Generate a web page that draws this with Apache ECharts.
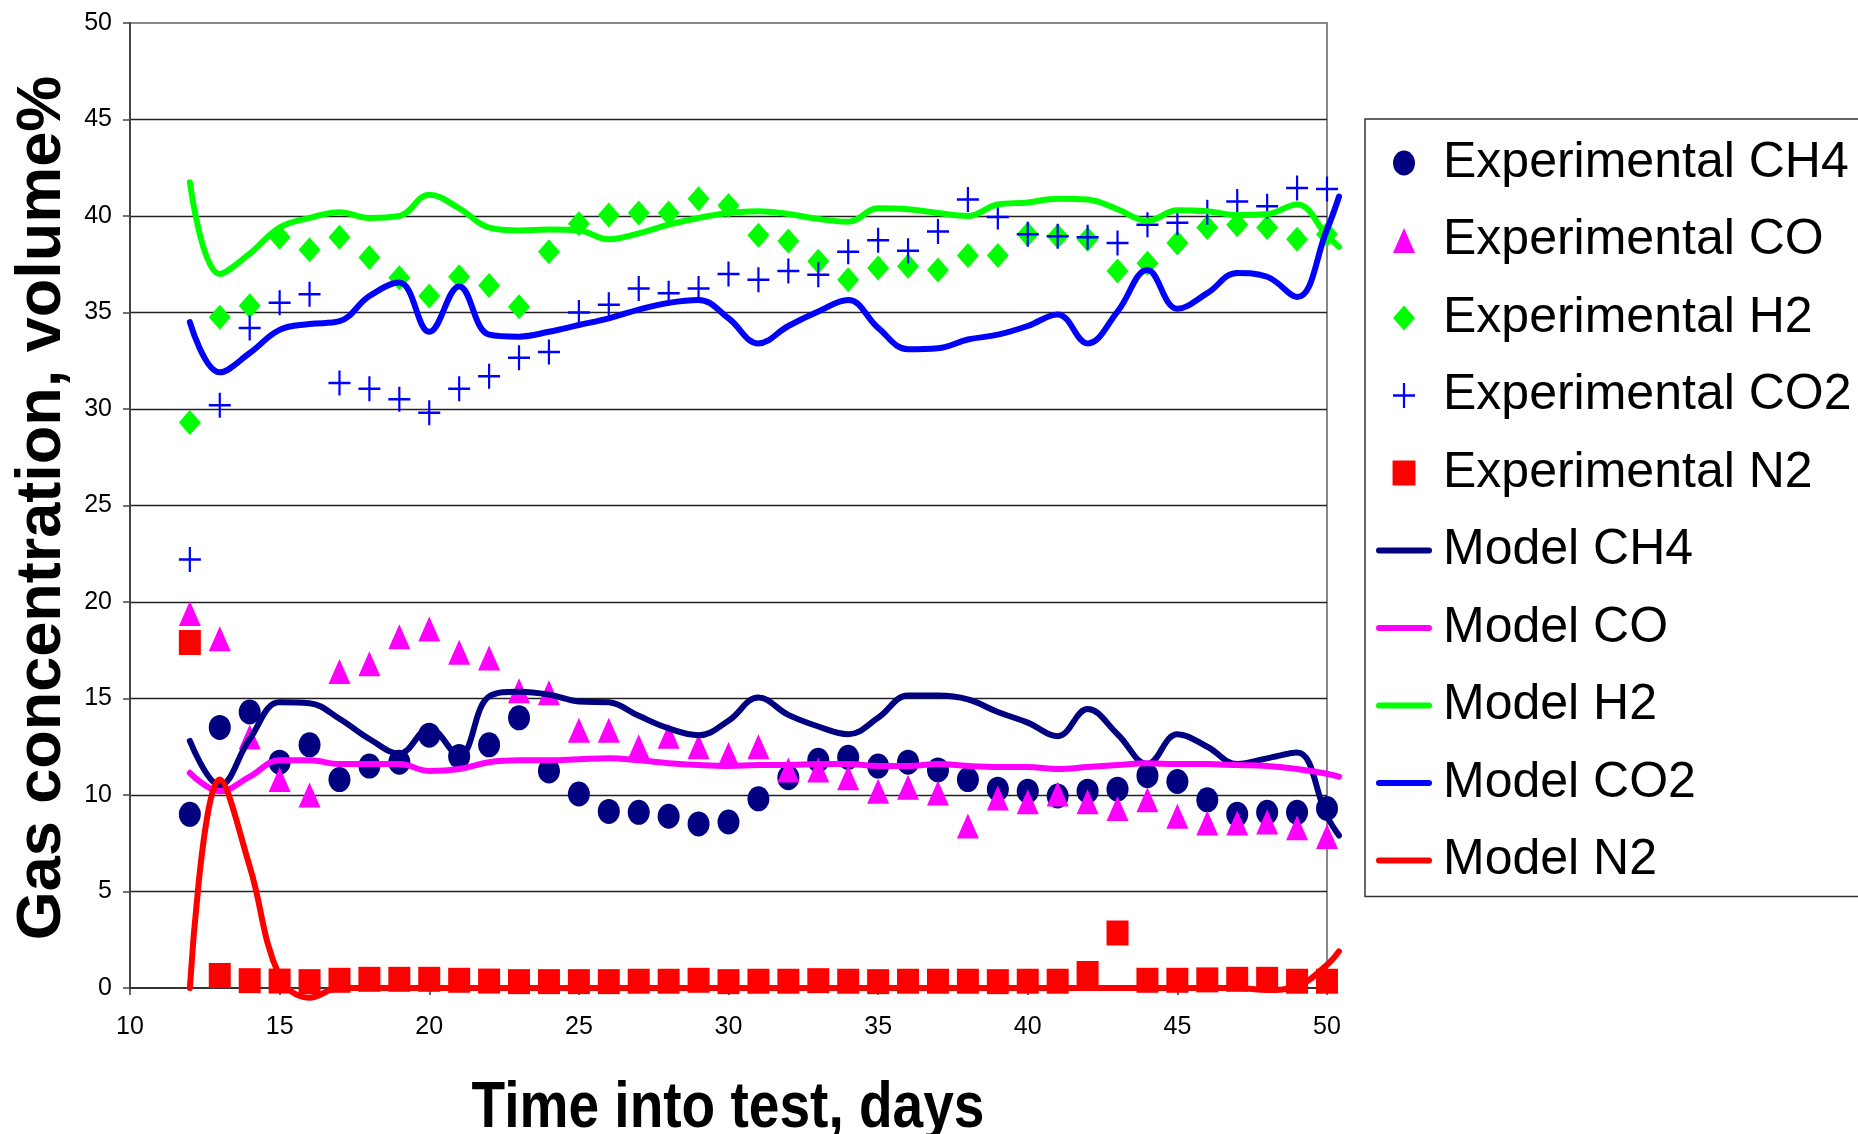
<!DOCTYPE html>
<html>
<head>
<meta charset="utf-8">
<title>Gas concentration vs time</title>
<script src="https://cdn.jsdelivr.net/npm/echarts@6.0.0/dist/echarts.min.js"></script>
<style>
  html, body { margin: 0; padding: 0; background: #fff; }
  #chart { width: 1858px; height: 1134px; }
</style>
</head>
<body>
<div id="chart"></div>
<script>
// sample days (experimental points)
const days = [12, 13, 14, 15, 16, 17, 18, 19, 20, 21, 22, 23, 24, 25, 26, 27, 28, 29, 30, 31,
  32, 33, 34, 35, 36, 37, 38, 39, 40, 41, 42, 43, 44, 45, 46, 47, 48, 49, 50]

const expCH4 = [9.0, 13.5, 14.3, 11.7, 12.6, 10.8, 11.5, 11.7, 13.1, 12.0, 12.6, 14.0, 11.25, 10.05, 9.15, 9.1, 8.9, 8.5, 8.6, 9.8,
  10.9, 11.8, 11.95, 11.5, 11.7, 11.3, 10.8, 10.3, 10.2, 9.95, 10.2, 10.3, 11.0, 10.7, 9.75, 9.0, 9.1, 9.1, 9.3]
const expCO = [19.4, 18.1, 13.0, 10.8, 10.0, 16.4, 16.8, 18.2, 18.6, 17.4, 17.1, 15.4, 15.3, 13.35, 13.35, 12.5, 13.05, 12.5, 12.1, 12.5,
  11.3, 11.3, 10.9, 10.2, 10.4, 10.1, 8.4, 9.85, 9.65, 10.05, 9.65, 9.3, 9.75, 8.9, 8.55, 8.55, 8.6, 8.3, 7.85]
const expH2 = [29.3, 34.75, 35.35, 38.9, 38.25, 38.9, 37.85, 36.8, 35.85, 36.85, 36.4, 35.3, 38.15, 39.6, 40.05, 40.15, 40.15, 40.9, 40.55, 39.0,
  38.7, 37.65, 36.7, 37.3, 37.4, 37.2, 37.95, 37.95, 39.05, 38.95, 38.8, 37.15, 37.55, 38.6, 39.4, 39.55, 39.4, 38.8, 39.05]
const expCO2 = [22.2, 30.2, 34.2, 35.5, 35.95, 31.35, 31.05, 30.5, 29.8, 31.05, 31.7, 32.65, 32.95, 35.0, 35.4, 36.25, 36.0, 36.25, 37.0, 36.7,
  37.15, 36.95, 38.15, 38.75, 38.2, 39.2, 40.85, 39.95, 39.05, 38.95, 38.9, 38.6, 39.55, 39.65, 40.2, 40.75, 40.5, 41.45, 41.4]
const expN2 = [17.9, 0.65, 0.38, 0.36, 0.33, 0.4, 0.45, 0.45, 0.45, 0.4, 0.36, 0.33, 0.33, 0.33, 0.33, 0.35, 0.35, 0.4, 0.33, 0.35,
  0.35, 0.38, 0.35, 0.33, 0.35, 0.35, 0.35, 0.33, 0.35, 0.35, 0.75, 2.85, 0.4, 0.4, 0.42, 0.45, 0.45, 0.35, 0.35]

// model output days
const modelDays = [12, 13, 14, 15, 16, 17, 18, 19, 20, 21, 22, 23, 24, 25, 26, 27, 28, 29, 30, 31,
  32, 33, 34, 35, 36, 37, 38, 39, 40, 41, 42, 43, 44, 45, 46, 47, 48, 49, 50, 50.4]

const modelCH4 = [12.8, 10.5, 12.9, 14.8, 14.75, 13.95, 12.9, 12.15, 13.45, 12.05, 15.1, 15.35, 15.2, 14.85, 14.8, 14.1, 13.45, 13.1, 13.85, 15.05,
  14.15, 13.55, 13.15, 14.0, 15.15, 15.15, 14.95, 14.3, 13.75, 13.05, 14.45, 13.15, 11.6, 13.15, 12.5, 11.6, 11.9, 12.2, 8.9, 7.9]
const modelCO = [11.15, 10.2, 10.95, 11.8, 11.8, 11.6, 11.6, 11.6, 11.25, 11.35, 11.7, 11.8, 11.8, 11.85, 11.9, 11.8, 11.65, 11.55, 11.5, 11.55,
  11.55, 11.6, 11.6, 11.5, 11.5, 11.6, 11.5, 11.45, 11.45, 11.35, 11.45, 11.55, 11.65, 11.6, 11.6, 11.55, 11.5, 11.35, 11.1, 10.95]
const modelH2 = [41.75, 37.0, 38.05, 39.4, 39.9, 40.2, 39.9, 40.0, 41.1, 40.4, 39.4, 39.25, 39.3, 39.25, 38.8, 39.1, 39.55, 39.9, 40.15, 40.25,
  40.1, 39.85, 39.7, 40.4, 40.35, 40.15, 40.0, 40.6, 40.7, 40.9, 40.85, 40.35, 39.75, 40.3, 40.25, 40.05, 40.1, 40.6, 39.0, 38.4]
const modelCO2 = [34.5, 31.9, 32.9, 34.1, 34.4, 34.55, 35.85, 36.55, 34.0, 36.35, 33.85, 33.75, 34.0, 34.35, 34.7, 35.15, 35.5, 35.65, 34.7, 33.4,
  34.3, 35.05, 35.65, 34.2, 33.1, 33.15, 33.6, 33.85, 34.3, 34.9, 33.4, 35.05, 37.2, 35.2, 36.0, 37.05, 36.85, 35.8, 39.3, 41.0]
const modelN2 = [0, 10.8, 6.3, 0.6, -0.5, 0, 0, 0, 0, 0, 0, 0, 0, 0, 0, 0, 0, 0, 0, 0,
  0, 0, 0, 0, 0, 0, 0, 0, 0, 0, 0, 0, 0, 0, 0, 0, -0.1, 0.1, 1.2, 1.9]

// axis ranges / ticks
const xMin = 10, xMax = 50, xStep = 5
const yMin = 0, yMax = 50, yStep = 5
// the model curves run a little past the last tick, so they sit on a wider hidden grid
const xMaxModel = 52

const font = '"Liberation Sans", Arial, sans-serif'

// plot box
const plotLeft = 130, plotTop = 23, plotWidth = 1197, plotHeight = 965

// marker shapes (22 x 25 box)
const symCircle = 'path://M11,0A11,12.5,0,1,1,11,25A11,12.5,0,1,1,11,0Z'
const symTriangle = 'path://M11,0L22,25L0,25Z'
const symDiamond = 'path://M11,0L22,12.5L11,25L0,12.5Z'
const symPlus = 'path://M0,11.25H22V13.75H0Z M9.9,0H12.1V25H9.9Z'
const symSquare = 'path://M0,0H22V24H0Z'
const lineIcon = 'path://M3,0H53A3,3,0,0,1,53,6H3A3,3,0,0,1,3,0Z'

function pairs(xs, ys) {
  return xs.map((x, i) => [x, ys[i]])
}

function markers(name, values, symbol, color) {
  return {
    name: name,
    type: 'scatter',
    data: pairs(days, values),
    symbol: symbol,
    symbolSize: [22, 25],
    itemStyle: { color: color, opacity: 1 },
    clip: false,
    z: 2
  }
}

function model(name, values, color) {
  return {
    name: name,
    type: 'line',
    xAxisIndex: 1,
    yAxisIndex: 1,
    data: pairs(modelDays, values),
    smooth: 0.4,
    symbol: 'none',
    lineStyle: { color: color, width: 6, cap: 'round', join: 'round' },
    itemStyle: { color: color },
    clip: false,
    z: 3
  }
}

const myChart = echarts.init(document.getElementById('chart'), null, { renderer: 'canvas' })
myChart.setOption({
  animation: false,
  backgroundColor: '#fff',
  grid: [
    {
      left: plotLeft,
      top: plotTop,
      width: plotWidth,
      height: plotHeight,
      show: true,
      borderColor: '#888',
      borderWidth: 2,
      outerBoundsMode: 'none'
    },
    {
      left: plotLeft,
      top: plotTop,
      width: plotWidth * (xMaxModel - xMin) / (xMax - xMin),
      height: plotHeight,
      show: false,
      outerBoundsMode: 'none'
    }
  ],
  xAxis: [
    {
      type: 'value',
      gridIndex: 0,
      min: xMin,
      max: xMax,
      interval: xStep,
      axisLine: { show: true, onZero: false, lineStyle: { color: '#333', width: 2 } },
      axisTick: { show: true, length: 7, lineStyle: { color: '#333', width: 1.5 } },
      axisLabel: { fontSize: 25, color: '#000', fontFamily: font, margin: 27 },
      splitLine: { show: false }
    },
    { type: 'value', gridIndex: 1, min: xMin, max: xMaxModel, show: false }
  ],
  yAxis: [
    {
      type: 'value',
      gridIndex: 0,
      min: yMin,
      max: yMax,
      interval: yStep,
      axisLine: { show: true, lineStyle: { color: '#444', width: 2 } },
      axisTick: { show: true, length: 7, lineStyle: { color: '#444', width: 1.5 } },
      axisLabel: { fontSize: 25, color: '#000', fontFamily: font, margin: 18 },
      splitLine: { show: true, showMinLine: false, showMaxLine: false, lineStyle: { color: '#222', width: 1.3 } }
    },
    { type: 'value', gridIndex: 1, min: yMin, max: yMax, show: false, splitLine: { show: false } }
  ],
  legend: {
    orient: 'vertical',
    left: 1365,
    top: 119,
    itemWidth: 56,
    itemHeight: 25,
    itemGap: 27.5,
    padding: [19, 40, 11, 11],
    borderColor: '#333',
    borderWidth: 1.5,
    selectedMode: false,
    textStyle: { fontSize: 50, color: '#000', fontFamily: font, padding: [0, 0, 0, 6] },
    data: [
      'Experimental CH4', 'Experimental CO', 'Experimental H2', 'Experimental CO2', 'Experimental N2',
      { name: 'Model CH4', icon: lineIcon },
      { name: 'Model CO', icon: lineIcon },
      { name: 'Model H2', icon: lineIcon },
      { name: 'Model CO2', icon: lineIcon },
      { name: 'Model N2', icon: lineIcon }
    ]
  },
  graphic: [
    {
      type: 'text',
      x: 43,
      y: 508,
      rotation: Math.PI / 2,
      style: {
        text: 'Gas concentration, volume%',
        font: 'bold 63px ' + font,
        fill: '#000',
        align: 'center',
        verticalAlign: 'middle'
      }
    },
    {
      type: 'text',
      x: 728,
      y: 1109,
      scaleX: 0.86,
      style: {
        text: 'Time into test, days',
        font: 'bold 64px ' + font,
        fill: '#000',
        align: 'center',
        verticalAlign: 'middle'
      }
    }
  ],
  series: [
    markers('Experimental CH4', expCH4, symCircle, '#000080'),
    markers('Experimental CO', expCO, symTriangle, '#ff00ff'),
    markers('Experimental H2', expH2, symDiamond, '#00ff00'),
    markers('Experimental CO2', expCO2, symPlus, '#0000ff'),
    markers('Experimental N2', expN2, symSquare, '#ff0000'),
    model('Model CH4', modelCH4, '#000080'),
    model('Model CO', modelCO, '#ff00ff'),
    model('Model H2', modelH2, '#00ff00'),
    model('Model CO2', modelCO2, '#0000ff'),
    model('Model N2', modelN2, '#ff0000')
  ]
})
window.onresize = function () {
  myChart.resize()
}
</script>
</body>
</html>
